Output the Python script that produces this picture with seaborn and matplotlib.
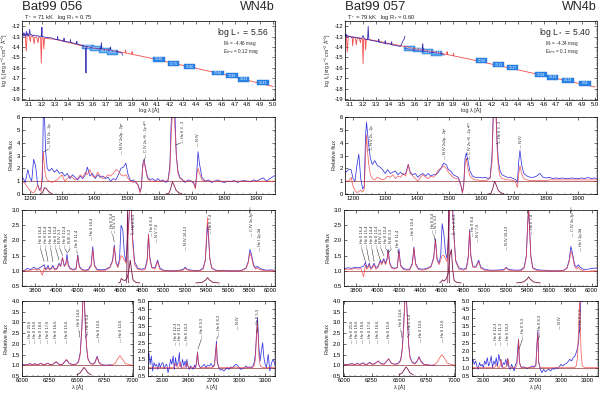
import matplotlib
matplotlib.use("Agg")
import matplotlib.pyplot as plt
import seaborn as sns
from matplotlib.patches import Rectangle
from matplotlib.ticker import MultipleLocator, FormatStrFormatter

# --- header texts ---
STARS = ["Bat99 056", "Bat99 057"]
SPTYPE = ["WN4b", "WN4b"]
TSTAR = ["71", "79"]
LOGRT = ["0.75", "0.60"]
LOGL = ["5.56", "5.40"]
MV = ["-4.46", "-4.34"]
EBV = ["0.12", "0.1"]

# --- SED (log lambda, log f_lambda) ---
SED056_MOD_X = [3.045, 3.07, 3.078, 3.085, 3.10, 3.11, 3.115, 3.13, 3.14, 3.145,
                3.16, 3.17, 3.175, 3.19, 3.195, 3.20, 3.21, 3.215, 3.22, 3.25,
                3.30, 3.40, 3.50, 3.60, 3.70, 3.80, 3.85, 3.852, 3.855, 3.90,
                3.902, 3.905, 4.00, 4.20, 4.40, 4.60, 4.80, 5.00]
SED056_MOD_Y = [-12.8, -12.85, -14.4, -12.9, -12.85, -13.5, -12.95, -13.0, -13.7, -13.05,
                -13.05, -13.6, -13.1, -13.1, -15.55, -13.1, -13.15, -14.2, -13.15, -13.2,
                -13.25, -13.55, -13.85, -14.1, -14.25, -14.45, -14.57, -14.3, -14.58, -14.7,
                -14.45, -14.71, -14.95, -15.5, -16.05, -16.6, -17.2, -17.8]
SED056_OBS_X = [3.045, 3.055, 3.06, 3.065, 3.07, 3.075, 3.08, 3.085, 3.09, 3.095,
                3.10, 3.105, 3.11, 3.12, 3.13, 3.14, 3.15, 3.16, 3.17, 3.18,
                3.19, 3.198, 3.20, 3.202, 3.21, 3.22, 3.24, 3.26, 3.28, 3.30,
                3.32, 3.322, 3.325, 3.35, 3.37, 3.372, 3.375, 3.40, 3.42, 3.422,
                3.425, 3.45, 3.47, 3.472, 3.475, 3.50, 3.52, 3.54, 3.543, 3.546,
                3.56, 3.58, 3.60, 3.62, 3.64, 3.66, 3.663, 3.666, 3.68, 3.70,
                3.72, 3.73, 3.733, 3.736, 3.76, 3.78, 3.80, 3.82, 3.83]
SED056_OBS_Y = [-12.7, -12.95, -12.6, -12.9, -12.75, -13.0, -12.5, -12.85, -12.7, -12.95,
                -12.8, -12.3, -12.85, -12.8, -12.95, -12.85, -12.9, -12.95, -12.9, -13.0,
                -12.95, -13.0, -12.1, -13.0, -13.0, -13.05, -13.1, -13.1, -13.15, -13.25,
                -13.3, -13.0, -13.3, -13.35, -13.45, -13.15, -13.45, -13.5, -13.55, -13.3,
                -13.55, -13.65, -13.7, -13.45, -13.72, -13.8, -13.85, -13.95, -16.5, -13.95,
                -14.0, -14.05, -14.1, -14.15, -14.15, -14.2, -13.6, -14.2, -14.25, -14.3,
                -14.3, -14.35, -14.0, -14.35, -14.4, -14.45, -14.5, -14.55, -14.8]

SED057_MOD_X = [3.06, 3.07, 3.078, 3.085, 3.10, 3.115, 3.12, 3.125, 3.14, 3.148,
                3.155, 3.17, 3.18, 3.185, 3.195, 3.20, 3.205, 3.215, 3.22, 3.225,
                3.25, 3.30, 3.40, 3.50, 3.60, 3.70, 3.80, 3.85, 3.852, 3.855,
                3.90, 3.902, 3.905, 4.00, 4.20, 4.40, 4.60, 4.80, 5.00]
SED057_MOD_Y = [-12.9, -12.95, -14.5, -13.0, -13.0, -13.05, -13.9, -13.05, -13.1, -13.8,
                -13.1, -13.15, -13.6, -13.15, -13.2, -15.6, -13.2, -13.25, -14.3, -13.25,
                -13.3, -13.4, -13.65, -13.9, -14.15, -14.35, -14.6, -14.72, -14.45, -14.73,
                -14.85, -14.6, -14.86, -15.1, -15.65, -16.2, -16.75, -17.3, -17.85]
SED057_UV_X = [3.06, 3.065, 3.07, 3.075, 3.08, 3.09, 3.10, 3.11, 3.12, 3.13,
               3.14, 3.15, 3.16, 3.17, 3.18, 3.19, 3.20, 3.21, 3.22, 3.235,
               3.24, 3.245, 3.26, 3.28, 3.30, 3.32, 3.322, 3.325, 3.35, 3.37,
               3.372, 3.375, 3.40, 3.42, 3.422, 3.425, 3.45, 3.47, 3.49, 3.50,
               3.51, 3.52, 3.525]
SED057_UV_Y = [-12.8, -13.0, -12.75, -13.05, -12.9, -13.0, -12.95, -13.1, -13.0, -13.1,
               -13.05, -13.1, -13.15, -13.1, -13.2, -13.15, -12.9, -13.2, -13.25, -13.3,
               -12.0, -13.3, -13.35, -13.4, -13.45, -13.5, -13.25, -13.55, -13.6, -13.65,
               -13.4, -13.7, -13.7, -13.75, -13.5, -13.8, -13.85, -13.9, -13.95, -13.7,
               -13.4, -13.2, -12.95]
SED057_OPT_X = [3.53, 3.55, 3.57, 3.60, 3.63, 3.66, 3.663, 3.666, 3.69, 3.72, 3.75, 3.78, 3.81, 3.83]
SED057_OPT_Y = [-14.15, -14.2, -14.25, -14.3, -14.35, -14.4, -13.7, -14.4, -14.45, -14.5,
                -14.55, -14.6, -14.65, -14.8]

# photometry boxes (log lambda, log f, magnitude)
PHOT056_X = [3.56, 3.62, 3.69, 3.75, 4.11, 4.225, 4.35, 4.57, 4.68, 4.77, 4.92]
PHOT056_Y = [-14.0, -14.15, -14.35, -14.5, -15.2, -15.6, -15.9, -16.5, -16.75, -17.1, -17.45]
PHOT056_TXT = ["12.92", "13.07", "13.15", "13.30", "12.36", "12.75", "13.46", "13.84", "13.98", "14.23", "14.43"]
PHOT057_X = [3.56, 3.63, 3.70, 3.77, 4.12, 4.25, 4.36, 4.58, 4.67, 4.79, 4.92]
PHOT057_Y = [-14.15, -14.3, -14.45, -14.6, -15.3, -15.7, -16.0, -16.65, -16.9, -17.2, -17.5]
PHOT057_TXT = ["13.02", "13.18", "13.29", "13.41", "12.68", "13.11", "13.27", "13.94", "14.19", "14.32", "14.6"]

# --- UV spectra ---
UV_W = [1178, 1186, 1194, 1200, 1206, 1212, 1218, 1224, 1230, 1235,
        1239, 1242, 1245, 1249, 1254, 1260, 1268, 1276, 1284, 1292,
        1300, 1308, 1316, 1324, 1332, 1340, 1348, 1356, 1364, 1372,
        1378, 1386, 1394, 1402, 1410, 1418, 1426, 1434, 1442, 1450,
        1458, 1466, 1474, 1482, 1490, 1497, 1504, 1512, 1520, 1528,
        1535, 1541, 1545, 1549, 1553, 1558, 1564, 1572, 1580, 1588,
        1596, 1604, 1612, 1620, 1627, 1633, 1637, 1641, 1645, 1649,
        1653, 1658, 1664, 1672, 1680, 1690, 1700, 1707, 1712, 1716,
        1720, 1725, 1732, 1742, 1752, 1762, 1772, 1782, 1792, 1802,
        1812, 1822, 1832, 1842, 1852, 1862, 1872, 1882, 1892, 1902,
        1912, 1922, 1932, 1942, 1952, 1962]
UV056_OBS = [1.3, 0.9, 1.9, 1.3, 1.0, 2.7, 2.2, 0.8, 0.3, 0.5,
             1.2, 6.5, 6.5, 3.3, 2.0, 1.8, 2.0, 1.7, 1.9, 1.6,
             1.7, 1.4, 1.6, 1.2, 1.5, 1.3, 1.1, 1.4, 1.2, 1.5,
             2.1, 1.4, 1.6, 1.2, 1.5, 1.3, 1.4, 1.2, 1.3, 1.0,
             1.2, 1.1, 1.5, 2.0, 2.1, 2.4, 1.5, 1.0, 1.1, 0.9,
             0.7, 0.2, 0.5, 2.3, 2.7, 2.0, 1.3, 1.1, 1.2, 1.0,
             1.2, 1.0, 1.1, 0.9, 1.0, 2.2, 5.5, 6.5, 6.5, 6.0,
             3.0, 1.8, 1.3, 1.1, 0.9, 1.1, 1.0, 0.8, 0.5, 1.6,
             3.3, 2.3, 1.3, 1.0, 1.1, 0.9, 1.0, 1.1, 0.95, 0.9,
             1.0, 0.95, 1.05, 0.9, 1.0, 1.05, 1.0, 0.95, 1.1, 1.0,
             1.15, 1.25, 1.0, 1.2, 1.35, 1.5]
UV056_MOD = [1.0, 0.8, 0.5, 0.3, 0.15, 0.1, 0.3, 0.7, 0.3, 0.2,
             2.0, 3.3, 2.2, 1.4, 1.1, 1.0, 0.9, 1.0, 1.1, 1.3,
             1.5, 1.0, 1.2, 1.4, 1.3, 1.1, 1.2, 1.5, 1.3, 1.7,
             1.5, 1.9, 1.4, 1.3, 1.7, 1.4, 1.2, 1.3, 1.5, 1.4,
             1.6, 1.9, 1.8, 1.5, 1.4, 1.5, 1.2, 1.0, 0.9, 1.0,
             0.6, 0.1, 0.6, 2.0, 2.6, 1.9, 1.2, 1.0, 1.0, 1.0,
             1.0, 1.0, 1.0, 1.0, 1.1, 1.8, 4.5, 6.5, 6.5, 5.0,
             3.0, 1.6, 1.2, 1.1, 1.0, 1.0, 1.0, 0.9, 0.4, 1.4,
             2.0, 1.6, 1.1, 1.0, 1.0, 1.0, 1.0, 1.0, 1.0, 1.0,
             1.0, 1.0, 1.0, 1.0, 1.0, 1.0, 1.0, 1.0, 1.0, 1.0,
             1.0, 1.0, 1.0, 1.0, 1.0, 1.0]
UV057_OBS = [1.7, 1.9, 1.9, 1.2, 1.0, 2.2, 3.1, 1.2, 0.4, 0.6,
             4.5, 5.6, 4.8, 3.8, 2.8, 2.3, 2.6, 2.2, 2.1, 1.9,
             1.6, 1.9, 1.6, 1.7, 1.8, 1.5, 1.7, 1.5, 1.6, 2.3,
             1.7, 1.5, 1.6, 1.3, 1.5, 1.6, 1.4, 1.6, 1.4, 1.5,
             1.5, 1.7, 2.0, 2.4, 2.3, 1.9, 1.8, 1.5, 1.4, 1.3,
             0.8, 0.1, 0.8, 2.8, 3.2, 2.6, 1.8, 1.4, 1.3, 1.3,
             1.3, 1.25, 1.3, 1.2, 1.3, 3.0, 6.5, 6.5, 6.5, 4.0,
             2.5, 1.8, 1.5, 1.4, 1.3, 1.3, 1.2, 1.1, 0.9, 2.5,
             3.4, 2.3, 1.6, 1.4, 1.3, 1.3, 1.4, 1.6, 1.3, 1.25,
             1.3, 1.2, 1.25, 1.2, 1.25, 1.2, 1.2, 1.25, 1.2, 1.2,
             1.25, 1.2, 1.3, 1.2, 1.25, 1.2]
UV057_MOD = [1.0, 1.0, 1.3, 0.6, 0.3, 0.1, 0.2, 0.3, 0.15, 0.4,
             3.0, 4.6, 3.4, 2.3, 1.5, 1.2, 1.1, 1.3, 1.2, 1.1,
             1.2, 1.4, 1.3, 1.5, 1.2, 1.4, 1.3, 1.6, 1.4, 2.3,
             1.6, 1.4, 1.2, 1.0, 1.3, 1.5, 1.3, 1.2, 1.4, 1.3,
             1.5, 1.9, 2.0, 2.2, 2.0, 1.7, 1.5, 1.3, 1.2, 1.2,
             0.7, 0.1, 0.7, 2.3, 2.8, 2.0, 1.4, 1.2, 1.1, 1.1,
             1.05, 1.05, 1.05, 1.1, 1.2, 2.5, 6.0, 6.5, 6.5, 3.5,
             2.0, 1.4, 1.2, 1.15, 1.1, 1.1, 1.05, 0.9, 0.5, 1.5,
             2.2, 1.6, 1.2, 1.1, 1.05, 1.05, 1.05, 1.05, 1.05, 1.05,
             1.1, 1.1, 1.1, 1.1, 1.1, 1.1, 1.1, 1.1, 1.1, 1.1,
             1.1, 1.1, 1.1, 1.1, 1.1, 1.1]
UV_SUB1_W = [1232, 1240, 1246, 1252, 1258, 1264, 1270]
UV056_SUB1 = [0.0, 0.15, 0.5, 0.4, 0.2, 0.08, 0.0]
UV_SUB2_W = [1622, 1630, 1636, 1641, 1646, 1652, 1660, 1670]
UV056_SUB2 = [0.0, 0.05, 0.45, 0.95, 0.7, 0.3, 0.1, 0.02]
UV057_SUB2 = [0.0, 0.05, 0.5, 1.0, 0.7, 0.3, 0.1, 0.02]

# --- optical spectra ---
OPT_W = [3670, 3700, 3730, 3760, 3790, 3820, 3845, 3870, 3888, 3900,
         3912, 3923, 3935, 3950, 3968, 3985, 4005, 4026, 4040, 4058,
         4075, 4089, 4100, 4112, 4130, 4160, 4185, 4200, 4215, 4240,
         4270, 4300, 4325, 4340, 4355, 4380, 4420, 4460, 4500, 4525,
         4541, 4556, 4575, 4590, 4604, 4620, 4635, 4650, 4662, 4676,
         4686, 4698, 4712, 4730, 4760, 4800, 4830, 4848, 4860, 4872,
         4890, 4920, 4945, 4965, 5000, 5050, 5100, 5150, 5185, 5202,
         5220, 5260, 5300, 5340, 5370, 5390, 5402, 5411, 5420, 5432,
         5450, 5480, 5520, 5560, 5600, 5650, 5700, 5740, 5770, 5790,
         5806, 5820, 5840, 5860, 5876, 5892, 5920, 5960, 6010, 6066]
OPT056_OBS = [1.02, 1.0, 1.08, 1.04, 1.12, 1.05, 1.1, 1.15, 1.2, 1.05,
              1.1, 1.18, 1.05, 1.08, 1.18, 1.05, 1.08, 1.25, 1.15, 1.42,
              1.15, 1.25, 1.55, 1.2, 1.08, 1.04, 1.1, 1.53, 1.15, 1.04,
              1.02, 1.05, 1.2, 1.8, 1.2, 1.05, 1.03, 1.05, 1.12, 1.35,
              1.85, 1.3, 1.15, 1.4, 2.5, 2.35, 1.55, 1.3, 2.0, 2.6,
              3.3, 3.3, 2.1, 1.3, 1.08, 1.05, 1.1, 1.4, 2.2, 1.45,
              1.12, 1.1, 1.35, 1.1, 1.02, 1.0, 1.0, 1.02, 1.05, 1.12,
              1.05, 1.02, 1.0, 1.02, 1.1, 1.35, 2.0, 2.55, 2.1, 1.4,
              1.1, 1.03, 1.0, 1.02, 1.0, 1.0, 1.0, 1.03, 1.1, 1.3,
              1.7, 1.55, 1.2, 1.1, 1.15, 1.1, 1.05, 1.02, 1.03, 1.0]
OPT056_MOD = [1.0, 1.0, 1.0, 1.02, 1.05, 1.02, 1.05, 0.85, 1.1, 1.02,
              1.05, 1.12, 1.03, 1.05, 1.12, 1.03, 1.05, 1.2, 1.15, 1.45,
              1.15, 1.2, 1.4, 1.15, 1.05, 1.02, 1.05, 1.5, 1.1, 1.02,
              1.0, 1.02, 1.15, 1.7, 1.15, 1.02, 1.0, 1.02, 1.1, 1.3,
              1.8, 1.25, 1.1, 1.3, 1.5, 1.45, 1.35, 1.25, 1.8, 2.6,
              3.3, 3.3, 1.9, 1.2, 1.05, 1.02, 1.05, 1.3, 2.2, 1.4,
              1.1, 1.05, 1.3, 1.05, 1.0, 1.0, 1.0, 1.0, 1.02, 1.1,
              1.03, 1.0, 1.0, 1.0, 1.05, 1.35, 2.2, 2.75, 2.2, 1.4,
              1.08, 1.02, 1.0, 1.0, 1.0, 1.0, 1.0, 1.02, 1.08, 1.25,
              1.6, 1.45, 1.15, 1.05, 1.1, 1.05, 1.02, 1.0, 1.0, 1.0]
OPT057_OBS = [1.05, 1.08, 1.1, 1.08, 1.12, 1.1, 1.12, 1.15, 1.28, 1.1,
              1.15, 1.25, 1.1, 1.12, 1.25, 1.1, 1.15, 1.35, 1.25, 1.4,
              1.25, 1.4, 1.7, 1.3, 1.12, 1.08, 1.12, 1.72, 1.2, 1.08,
              1.05, 1.05, 1.25, 1.78, 1.25, 1.08, 1.05, 1.08, 1.15, 1.45,
              2.05, 1.4, 1.25, 1.5, 2.55, 2.2, 1.6, 1.4, 2.1, 3.3,
              3.3, 3.3, 2.3, 1.35, 1.1, 1.05, 1.1, 1.5, 2.35, 1.5,
              1.15, 1.15, 1.35, 1.12, 1.05, 1.02, 1.02, 1.03, 1.05, 1.12,
              1.05, 1.03, 1.02, 1.03, 1.12, 1.5, 2.5, 3.1, 2.4, 1.5,
              1.1, 1.05, 1.02, 1.02, 1.0, 1.0, 1.0, 1.02, 1.1, 1.35,
              1.8, 1.6, 1.2, 1.12, 1.2, 1.12, 1.05, 1.05, 1.08, 1.1]
OPT057_MOD = [1.02, 1.05, 1.05, 1.05, 1.08, 1.05, 1.08, 0.8, 1.2, 1.05,
              1.1, 1.2, 1.05, 1.08, 1.2, 1.05, 1.1, 1.3, 1.2, 1.35,
              1.2, 1.35, 1.65, 1.25, 1.1, 1.05, 1.1, 1.65, 1.15, 1.05,
              1.02, 1.03, 1.2, 1.75, 1.2, 1.05, 1.02, 1.05, 1.12, 1.4,
              2.0, 1.35, 1.2, 1.35, 1.5, 1.5, 1.4, 1.3, 2.0, 3.3,
              3.3, 3.3, 2.2, 1.3, 1.05, 1.02, 1.05, 1.4, 2.3, 1.45,
              1.12, 1.1, 1.3, 1.08, 1.02, 1.0, 1.0, 1.0, 1.03, 1.1,
              1.03, 1.0, 1.0, 1.0, 1.08, 1.45, 2.5, 3.1, 2.4, 1.45,
              1.08, 1.02, 1.0, 1.0, 1.0, 1.0, 1.0, 1.02, 1.08, 1.3,
              1.65, 1.5, 1.15, 1.05, 1.12, 1.05, 1.0, 0.98, 1.0, 1.0]
OPT_SUB1_W = [4580, 4596, 4606, 4620, 4640, 4660, 4676, 4690, 4702, 4716, 4740, 4780]
OPT056_SUB1 = [0.6, 0.62, 0.75, 0.7, 0.68, 0.75, 1.0, 1.35, 1.0, 0.7, 0.62, 0.6]
OPT057_SUB1 = [0.6, 0.64, 0.7, 0.66, 0.72, 0.9, 1.5, 1.7, 1.05, 0.68, 0.62, 0.6]
OPT_SPIKE_W = [4656, 4664, 4672]
OPT_SPIKE_F = [0.6, 3.2, 0.6]
OPT_SUB2_W = [5300, 5360, 5395, 5411, 5428, 5460, 5520]
OPT056_SUB2 = [0.6, 0.62, 0.7, 0.78, 0.7, 0.62, 0.6]
OPT057_SUB2 = [0.6, 0.63, 0.72, 0.8, 0.72, 0.63, 0.6]

# --- H-alpha region ---
HA_W = [6000, 6020, 6045, 6060, 6074, 6090, 6105, 6119, 6135, 6150,
        6171, 6190, 6210, 6234, 6255, 6280, 6311, 6335, 6365, 6406,
        6430, 6460, 6490, 6515, 6530, 6545, 6556, 6565, 6575, 6588,
        6600, 6620, 6645, 6665, 6683, 6700, 6725, 6760, 6790, 6820,
        6850, 6870, 6891, 6912, 6940, 6980, 7020, 7070]
HA056_OBS = [1.05, 1.02, 1.04, 1.05, 1.08, 1.03, 1.04, 1.08, 1.03, 1.04,
             1.1, 1.03, 1.04, 1.1, 1.03, 1.05, 1.15, 1.05, 1.04, 1.25,
             1.08, 1.04, 1.05, 1.2, 1.6, 2.8, 4.3, 4.3, 3.0, 1.8,
             1.3, 1.1, 1.05, 1.15, 1.42, 1.15, 1.03, 1.0, 1.02, 1.0]
HA056_MOD = [1.0, 1.0, 1.02, 1.04, 1.07, 1.02, 1.03, 1.07, 1.02, 1.03,
             1.09, 1.02, 1.03, 1.1, 1.02, 1.04, 1.18, 1.05, 1.03, 1.28,
             1.08, 1.03, 1.04, 1.15, 1.5, 2.7, 4.3, 4.3, 3.2, 1.9,
             1.3, 1.1, 1.03, 1.12, 1.38, 1.12, 1.02, 1.0, 1.0, 1.02,
             1.1, 1.3, 1.45, 1.3, 1.08, 1.02, 1.0, 1.0]
HA057_OBS = [1.05, 1.03, 1.05, 1.06, 1.08, 1.04, 1.05, 1.1, 1.05, 1.05,
             1.12, 1.05, 1.05, 1.14, 1.05, 1.08, 1.2, 1.08, 1.06, 1.3,
             1.1, 1.05, 1.08, 1.25, 1.8, 3.2, 4.3, 4.3, 3.4, 2.0,
             1.4, 1.15, 1.08, 1.2, 1.4, 1.2, 1.05, 1.02, 1.0, 1.0]
HA057_MOD = [1.02, 1.02, 1.04, 1.05, 1.07, 1.03, 1.04, 1.08, 1.04, 1.04,
             1.1, 1.04, 1.04, 1.12, 1.04, 1.06, 1.2, 1.06, 1.05, 1.3,
             1.1, 1.04, 1.06, 1.2, 1.7, 3.0, 4.3, 4.3, 3.3, 1.9,
             1.35, 1.12, 1.05, 1.18, 1.38, 1.15, 1.04, 1.02, 1.0, 1.02,
             1.15, 1.35, 1.5, 1.35, 1.1, 1.03, 1.0, 1.0]
HA_SUB_W = [6500, 6530, 6550, 6565, 6580, 6600, 6630]
HA056_SUB = [0.55, 0.65, 0.8, 0.9, 0.8, 0.65, 0.55]
HA057_SUB = [0.55, 0.65, 0.82, 0.92, 0.82, 0.65, 0.55]

# --- near-UV (IUE long wavelength) ---
NUV_W = [1925, 1940, 1955, 1970, 1985, 2000, 2015, 2030, 2045, 2060,
         2075, 2090, 2105, 2120, 2135, 2150, 2165, 2180, 2195, 2210,
         2225, 2240, 2253, 2268, 2283, 2298, 2306, 2320, 2335, 2350,
         2365, 2378, 2386, 2400, 2415, 2430, 2445, 2460, 2475, 2490,
         2502, 2511, 2520, 2535, 2550, 2570, 2590, 2610, 2630, 2650,
         2670, 2690, 2710, 2724, 2733, 2742, 2760, 2780, 2800, 2820,
         2840, 2860, 2880, 2900, 2920, 2940, 2960, 2980, 3000, 3020,
         3040, 3060, 3080, 3100, 3120, 3140, 3160, 3175, 3190, 3203,
         3215, 3230, 3245, 3260, 3275, 3290, 3305, 3320, 3340, 3360,
         3380, 3400, 3430]
NUV056_OBS = [1.5, 1.9, 1.2, 1.7, 0.8, 1.3, 1.1, 1.2, 0.9, 1.3,
              1.0, 1.25, 1.3, 0.95, 1.15, 1.2, 0.7, 1.0, 1.5, 1.2,
              1.7, 0.9, 1.6, 1.1, 1.3, 1.9, 1.2, 1.0, 1.5, 1.1,
              1.4, 1.0, 1.5, 1.1, 0.9, 1.1, 1.0, 0.9, 1.15, 1.0,
              1.5, 1.95, 1.3, 1.05, 1.0, 1.1, 1.2, 1.0, 1.15, 1.1,
              1.25, 1.05, 1.2, 2.0, 2.6, 1.4, 1.0, 0.85, 0.9, 0.8,
              0.9, 1.0, 0.9, 1.05, 1.0, 1.1, 1.2, 1.15, 1.0, 0.9,
              0.95, 1.0, 1.1, 1.0, 1.05, 1.0, 1.1, 1.3, 1.8, 3.0,
              4.0, 2.3, 1.4, 2.0, 2.5, 1.6, 1.2, 1.0, 1.8, 0.8,
              1.3, 1.5, 1.0]
NUV056_MOD = [1.0, 1.0, 1.0, 1.0, 1.0, 1.0, 1.0, 1.0, 1.0, 1.0,
              1.0, 1.0, 1.0, 1.0, 1.0, 1.0, 1.0, 1.0, 1.0, 1.0,
              1.0, 1.05, 1.25, 1.05, 1.0, 1.1, 1.35, 1.05, 1.0, 1.0,
              1.05, 1.1, 1.3, 1.05, 1.0, 1.0, 1.0, 1.0, 1.0, 1.05,
              1.4, 1.9, 1.3, 1.05, 1.0, 1.0, 1.0, 1.0, 1.0, 1.0,
              1.0, 1.02, 1.1, 1.9, 2.4, 1.3, 1.02, 1.0, 1.0, 1.0,
              1.0, 1.0, 1.0, 1.0, 1.0, 1.02, 1.05, 1.0, 1.0, 1.0,
              1.0, 1.0, 1.0, 1.0, 1.0, 1.0, 1.02, 1.1, 1.5, 3.0,
              3.7, 1.8, 1.15, 1.05, 1.02, 1.0, 1.0, 1.0, 1.0, 1.0,
              1.0, 1.0, 1.0]
NUV057_OBS = [1.0, 1.2, 1.4, 1.3, 1.5, 1.2, 1.4, 1.1, 0.9, 1.3,
              1.1, 1.2, 1.0, 1.4, 1.2, 1.6, 1.1, 1.3, 1.7, 1.0,
              1.4, 1.2, 1.6, 1.1, 1.8, 1.4, 1.5, 1.0, 1.3, 1.2,
              1.5, 1.1, 1.55, 1.0, 0.9, 1.2, 1.0, 0.8, 1.2, 1.3,
              2.2, 2.7, 1.3, 1.1, 1.0, 1.05, 1.0, 0.95, 1.0, 1.05,
              1.1, 1.05, 1.2, 2.6, 3.2, 1.4, 0.9, 0.7, 0.9, 0.75,
              0.85, 0.9, 0.8, 0.95, 0.9, 1.0, 0.95, 1.05, 1.2, 1.1,
              1.2, 1.25, 1.35, 1.5, 1.4, 1.6, 1.7, 1.9, 2.2, 2.6,
              3.6, 5.2, 5.2, 5.2, 5.2, 5.2, 5.2, 5.2, 5.2, 5.2,
              5.2, 5.2, 5.2]
NUV057_MOD = [1.0, 1.0, 1.0, 1.0, 1.0, 1.0, 1.0, 1.0, 1.0, 1.0,
              1.0, 1.0, 1.0, 1.0, 1.0, 1.0, 1.0, 1.0, 1.0, 1.0,
              1.0, 1.05, 1.2, 1.05, 1.0, 1.1, 1.5, 1.1, 1.0, 1.0,
              1.05, 1.15, 1.55, 1.1, 1.0, 1.0, 1.0, 1.0, 1.02, 1.1,
              1.8, 2.7, 1.4, 1.05, 1.0, 1.0, 1.0, 1.0, 1.0, 1.0,
              1.0, 1.02, 1.1, 2.3, 3.1, 1.3, 1.02, 1.0, 1.0, 1.0,
              1.0, 1.0, 1.0, 1.0, 1.0, 1.0, 1.0, 1.05, 1.0, 1.0,
              1.0, 1.0, 1.0, 1.0, 1.0, 1.0, 1.02, 1.1, 1.6, 3.5,
              5.2, 2.0, 1.1, 1.05, 1.02, 1.0, 1.0, 1.0, 1.0, 1.0,
              1.0, 1.0, 1.0]

# --- line identifications (x, y of label foot, text) ---
UV056_IDS = [(1262, 3.55, "N V 2s - 2p"), (1484, 3.1, "N IV 2s2p - 2p²"),
             (1559, 2.85, "C IV 2s ²S - 2p ²P°"), (1673, 4.0, "He II 3 - 2"), (1719, 3.75, "N IV")]
UV056_LINKS = [((1244, 3.3), (1258, 3.5)), ((1553, 2.6), (1557, 2.85)), ((1650, 3.8), (1668, 4.0))]
UV057_IDS = [(1258, 3.45, "N V 2s - 2p"), (1487, 2.7, "N IV 2s2p - 2p²"),
             (1564, 2.7, "C IV 2s ²S - 2p ²P°"), (1658, 4.0, "He II 3 - 2"), (1724, 3.6, "N IV")]
UV057_LINKS = [((1246, 3.4), (1254, 3.5)), ((1553, 2.7), (1560, 2.75)), ((1646, 3.9), (1654, 4.0))]
OPT_IDS = [(3853, 1.75, "He II 16-4"), (3900, 1.75, "He II 15-4"), (3948, 1.75, "He II 14-4"),
           (3995, 1.75, "He II 13-4"), (4036, 1.75, "N IV 3-3"), (4083, 1.75, "He II 12-4"),
           (4130, 1.75, "N III 3-3"), (4195, 1.62, "He II 11-4"), (4335, 2.0, "He II 10-4"),
           (4518, 2.25, "He II 9-4"), (4548, 2.25, "N V 3-3"), (4725, 2.2, "He II 4-3"),
           (4895, 2.15, "He II 8-4"), (4935, 1.95, "N V 7-6"), (5208, 1.68, "N IV 16-13"),
           (5440, 2.2, "He II 7-4"), (5830, 2.15, "C IV 3s-3p ²P°"), (5900, 1.65, "He I 2p-3d")]
OPT_LINKS = [((3887, 1.3), (3853, 1.72)), ((3923, 1.3), (3900, 1.72)), ((3968, 1.3), (3948, 1.72)),
             ((4026, 1.35), (3995, 1.72)), ((4058, 1.5), (4036, 1.72)), ((4100, 1.6), (4083, 1.72)),
             ((4105, 1.6), (4130, 1.72)), ((4200, 1.58), (4195, 1.62)), ((4541, 1.95), (4525, 2.2)),
             ((4690, 2.2), (4720, 2.2))]
HA_IDS = [(6074, 2.05, "He II 20-6"), (6119, 2.05, "He II 19-6"), (6171, 2.05, "He II 18-6"),
          (6234, 2.05, "He II 17-6"), (6311, 2.05, "He II 16-6"), (6406, 2.05, "He II 15-6"),
          (6520, 2.6, "He II 14-6"), (6600, 2.45, "He II 6-4"), (6700, 2.1, "He II 13-6"),
          (6905, 2.1, "He II 12-6")]
HA_LINKS = [((6527, 2.3), (6520, 2.6)), ((6575, 2.3), (6595, 2.45))]
NUV_IDS = [(2253, 2.35, "He II 12-3"), (2306, 2.35, "He II 11-3"), (2386, 2.35, "He II 10-3"),
           (2560, 2.75, "He II 9-3"), (2760, 2.95, "He II 8-3"), (2985, 3.3, "N IV"),
           (3225, 3.3, "He II 5-3")]
NUV_LINKS = [((2515, 2.1), (2555, 2.7)), ((2735, 2.7), (2755, 2.9)), ((3205, 3.1), (3220, 3.3))]

# --- layout in pixels (x0, y0, x1, y1) ---
W, H = 600, 394
BLUE = "#1f1fdc"
RED = "#f23a3a"
BASE = "#8b2020"
SUB = "#7a1448"

sns.set_theme(style="ticks")
plt.rcParams.update({
    "font.family": ["Liberation Sans", "DejaVu Sans"],
    "mathtext.fontset": "custom",
    "mathtext.rm": "Liberation Sans",
    "mathtext.it": "Liberation Sans:italic",
    "axes.unicode_minus": False,
    "axes.linewidth": 0.5,
    "axes.edgecolor": "black",
    "xtick.direction": "in", "ytick.direction": "in",
    "xtick.top": True, "ytick.right": True,
    "xtick.minor.visible": True, "ytick.minor.visible": True,
    "xtick.major.size": 2.0, "ytick.major.size": 2.0,
    "xtick.minor.size": 1.0, "ytick.minor.size": 1.0,
    "xtick.major.width": 0.4, "ytick.major.width": 0.4,
    "xtick.minor.width": 0.3, "ytick.minor.width": 0.3,
    "xtick.labelsize": 4.2, "ytick.labelsize": 4.2,
    "xtick.major.pad": 1.5, "ytick.major.pad": 1.5,
    "xtick.color": "black", "ytick.color": "black",
})

fig = plt.figure(figsize=(6, 3.94), dpi=100)


def panel(px):
    x0, y0, x1, y1 = px
    return fig.add_axes([x0 / W, 1 - y1 / H, (x1 - x0) / W, (y1 - y0) / H])


def setup(ax, xlim, ylim, xmaj, xmin, ymaj, ymin, yfmt):
    ax.set_xlim(*xlim)
    ax.set_ylim(*ylim)
    ax.xaxis.set_major_locator(MultipleLocator(xmaj))
    ax.xaxis.set_minor_locator(MultipleLocator(xmin))
    ax.yaxis.set_major_locator(MultipleLocator(ymaj))
    ax.yaxis.set_minor_locator(MultipleLocator(ymin))
    ax.yaxis.set_major_formatter(FormatStrFormatter(yfmt))
    ax.set_xlabel("")
    ax.set_ylabel("")


def line(ax, x, y, color, lw=0.5, alpha=1.0, z=2):
    sns.lineplot(x=x, y=y, ax=ax, color=color, lw=lw, alpha=alpha,
                 sort=False, estimator=None, zorder=z)


def spectrum(ax, w, obs, mod):
    line(ax, w[:len(obs)], obs, BLUE, 0.55, 0.9)
    line(ax, w[:len(mod)], mod, RED, 0.55, 0.8)
    ax.axhline(1.0, color=BASE, lw=0.45, zorder=1.5)


def ids(ax, items, links):
    for x, y, s in items:
        ax.text(x, y, "— " + s, rotation=90, ha="center", va="bottom", fontsize=2.8)
    for (xa, ya), (xb, yb) in links:
        ax.plot([xa, xb], [ya, yb], color="black", lw=0.3)


def sed_panel(ax, idx, curves_obs, mod_x, mod_y, px, py, ptxt, xlim):
    line(ax, mod_x, mod_y, RED, 0.6, 0.9)
    for ox, oy in curves_obs:
        line(ax, ox, oy, "#2a1fb0", 0.6, 0.9)
    for x, y, t in zip(px, py, ptxt):
        opt = x < 4.0
        ax.add_patch(Rectangle((x - 0.045, y - 0.23), 0.09, 0.46,
                               facecolor="#4da3f2" if opt else "#2b83e6",
                               edgecolor="#1f6fd0", lw=0.3, zorder=1 if opt else 3))
        ax.text(x, y, t, color="white", fontsize=2.3, ha="center", va="center",
                zorder=4)
    setup(ax, xlim, (-19.1, -11.5), 0.1, 0.02, 1, 0.25, "%d")
    ax.xaxis.set_major_formatter(FormatStrFormatter("%.1f"))
    ax.set_xlabel("log λ [Å]", fontsize=4, labelpad=0.5)
    ax.set_ylabel("log f$_λ$ [erg s$^{-1}$ cm$^{-2}$ Å$^{-1}$]", fontsize=3.6, labelpad=1)
    ax.text(0.975, 0.85, f"log L$_*$ = {LOGL[idx]}", transform=ax.transAxes,
            ha="right", va="center", fontsize=6.2)
    ax.text(0.795, 0.72, f"M$_v$ = {MV[idx]} mag", transform=ax.transAxes,
            ha="left", va="center", fontsize=3.3)
    ax.text(0.795, 0.61, f"E$_{{b-v}}$ = {EBV[idx]} mag", transform=ax.transAxes,
            ha="left", va="center", fontsize=3.3)


COLS = [
    dict(x0=22, x1=275, hx1=133, nx0=148, opt0=22),
    dict(x0=345, x1=597, hx1=455, nx0=472, opt0=344),
]

# ---------------- column 1 : Bat99 056 ----------------
c = COLS[0]
ax = panel((c["x0"], 21, c["x1"], 100))
sed_panel(ax, 0, [(SED056_OBS_X, SED056_OBS_Y)], SED056_MOD_X, SED056_MOD_Y,
          PHOT056_X, PHOT056_Y, PHOT056_TXT, (3.045, 5.015))

ax = panel((c["x0"], 117, c["x1"], 194))
spectrum(ax, UV_W, UV056_OBS, UV056_MOD)
line(ax, UV_SUB1_W, UV056_SUB1, SUB, 0.6)
line(ax, UV_SUB2_W, UV056_SUB2, SUB, 0.6)
ids(ax, UV056_IDS, UV056_LINKS)
setup(ax, (1176, 1958), (0, 6), 100, 20, 1, 0.2, "%d")
ax.set_ylabel("Relative flux", fontsize=4, labelpad=2)

ax = panel((c["opt0"], 210, c["x1"], 286))
spectrum(ax, OPT_W, OPT056_OBS, OPT056_MOD)
line(ax, OPT_SUB1_W, OPT056_SUB1, SUB, 0.6)
line(ax, OPT_SPIKE_W, OPT_SPIKE_F, SUB, 0.5)
line(ax, OPT_SUB2_W, OPT056_SUB2, SUB, 0.6)
ids(ax, OPT_IDS, OPT_LINKS)
setup(ax, (3680, 6040), (0.5, 3.0), 200, 40, 0.5, 0.1, "%.1f")
ax.set_ylabel("Relative flux", fontsize=4, labelpad=2)

ax = panel((c["x0"], 301, c["hx1"], 376))
spectrum(ax, HA_W, HA056_OBS, HA056_MOD)
line(ax, HA_SUB_W, HA056_SUB, SUB, 0.6)
ids(ax, HA_IDS, HA_LINKS)
setup(ax, (6000, 7010), (0.5, 4.0), 250, 50, 0.5, 0.1, "%.1f")
ax.set_ylabel("Relative flux", fontsize=4, labelpad=2)
ax.set_xlabel("λ [Å]", fontsize=4, labelpad=1)

ax = panel((c["nx0"], 301, c["x1"], 376))
spectrum(ax, NUV_W, NUV056_OBS, NUV056_MOD)
ids(ax, NUV_IDS, NUV_LINKS)
setup(ax, (1930, 3420), (0.5, 5.0), 300, 60, 0.5, 0.1, "%.1f")
ax.set_xlabel("λ [Å]", fontsize=4, labelpad=1)

# ---------------- column 2 : Bat99 057 ----------------
c = COLS[1]
ax = panel((c["x0"], 21, c["x1"], 100))
sed_panel(ax, 1, [(SED057_UV_X, SED057_UV_Y), (SED057_OPT_X, SED057_OPT_Y)],
          SED057_MOD_X, SED057_MOD_Y, PHOT057_X, PHOT057_Y, PHOT057_TXT, (3.06, 5.015))

ax = panel((c["x0"], 117, c["x1"], 194))
spectrum(ax, UV_W, UV057_OBS, UV057_MOD)
line(ax, UV_SUB2_W, UV057_SUB2, SUB, 0.6)
ids(ax, UV057_IDS, UV057_LINKS)
setup(ax, (1175, 1960), (0, 6), 100, 20, 1, 0.2, "%d")
ax.set_ylabel("Relative flux", fontsize=4, labelpad=2)

ax = panel((c["opt0"], 210, c["x1"], 286))
spectrum(ax, OPT_W, OPT057_OBS, OPT057_MOD)
line(ax, OPT_SUB1_W, OPT057_SUB1, SUB, 0.6)
line(ax, OPT_SPIKE_W, OPT_SPIKE_F, SUB, 0.5)
line(ax, OPT_SUB2_W, OPT057_SUB2, SUB, 0.6)
ids(ax, OPT_IDS, OPT_LINKS)
setup(ax, (3687, 6050), (0.5, 3.0), 200, 40, 0.5, 0.1, "%.1f")
ax.set_ylabel("Relative flux", fontsize=4, labelpad=2)

ax = panel((c["opt0"] - 1, 301, c["hx1"], 376))
spectrum(ax, HA_W, HA057_OBS, HA057_MOD)
line(ax, HA_SUB_W, HA057_SUB, SUB, 0.6)
ids(ax, HA_IDS, HA_LINKS)
setup(ax, (5990, 7010), (0.5, 4.0), 250, 50, 0.5, 0.1, "%.1f")
ax.set_ylabel("Relative flux", fontsize=4, labelpad=2)
ax.set_xlabel("λ [Å]", fontsize=4, labelpad=1)

ax = panel((c["nx0"], 301, c["x1"] + 1, 376))
spectrum(ax, NUV_W, NUV057_OBS, NUV057_MOD)
ids(ax, NUV_IDS, NUV_LINKS)
setup(ax, (1974, 3426), (0.5, 5.0), 300, 60, 0.5, 0.1, "%.1f")
ax.set_xlabel("λ [Å]", fontsize=4, labelpad=1)

# ---------------- headers ----------------
for i, c in enumerate(COLS):
    fig.text(c["x0"] / W, 1 - 10 / H, STARS[i], fontsize=9.5, ha="left", va="baseline")
    fig.text(c["x1"] / W, 1 - 10 / H, SPTYPE[i], fontsize=9.0, ha="right", va="baseline")
    fig.text((c["x0"] + 2) / W, 1 - 17 / H,
             f"T$_*$ = {TSTAR[i]} kK   log R$_t$ = {LOGRT[i]}",
             fontsize=4.2, ha="left", va="center")

fig.savefig("out.png", dpi=100)
